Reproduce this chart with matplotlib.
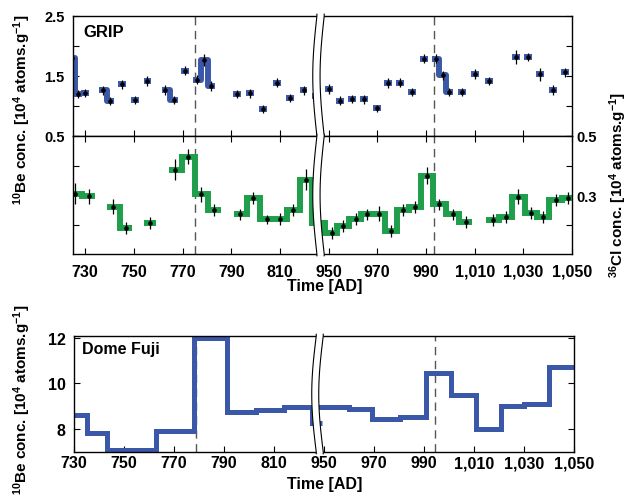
import numpy as np
import matplotlib.pyplot as plt
from matplotlib.transforms import blended_transform_factory

plt.rcParams['font.family'] = ['Liberation Sans', 'DejaVu Sans']
plt.rcParams['font.weight'] = 'bold'
plt.rcParams['mathtext.fontset'] = 'custom'
plt.rcParams['mathtext.rm'] = 'Liberation Sans:bold'
plt.rcParams['mathtext.it'] = 'Liberation Sans:bold'
plt.rcParams['mathtext.bf'] = 'Liberation Sans:bold'

### Daten
# GRIP 10Be (Jahr, Wert, Fehler, Gruppe = zusammenhaengende Proben)
grip_yr  = [724.5, 727.2, 730.0, 737.5, 740.3, 745.1, 750.5, 755.6, 763.0, 766.3,
            771.0, 775.9, 778.9, 781.7, 792.3, 797.8, 803.2, 808.7, 814.2, 819.7,
            824.7, 950.3, 954.7, 959.8, 964.6, 969.8, 974.6, 979.4, 984.4, 989.3,
            994.1, 996.9, 999.6, 1004.9, 1010.3, 1016.0, 1026.9, 1031.8, 1036.9, 1042.1,
            1047.1]
grip_val = [1.80, 1.20, 1.22, 1.26, 1.08, 1.36, 1.10, 1.42, 1.27, 1.10,
            1.59, 1.44, 1.77, 1.33, 1.20, 1.21, 0.95, 1.39, 1.13, 1.26,
            1.16, 1.28, 1.09, 1.12, 1.11, 0.96, 1.38, 1.39, 1.23, 1.79,
            1.79, 1.51, 1.23, 1.23, 1.53, 1.42, 1.82, 1.82, 1.53, 1.27,
            1.56]
grip_err = [0.10, 0.07, 0.07, 0.07, 0.07, 0.08, 0.07, 0.08, 0.08, 0.07,
            0.08, 0.08, 0.10, 0.08, 0.07, 0.08, 0.06, 0.08, 0.07, 0.08,
            0.08, 0.08, 0.07, 0.07, 0.07, 0.06, 0.08, 0.08, 0.07, 0.08,
            0.08, 0.08, 0.07, 0.07, 0.08, 0.07, 0.12, 0.07, 0.11, 0.08,
            0.08]
grip_run = [0, 0, 1, 2, 2, 3, 4, 5, 6, 6,
            7, 8, 8, 8, 9, 10, 11, 12, 13, 14,
            15, 16, 17, 18, 19, 20, 21, 22, 23, 24,
            25, 25, 25, 26, 27, 28, 29, 30, 31, 32,
            33]

# GRIP 36Cl
cl_yr  = [725.9, 731.4, 741.6, 746.7, 756.7, 767.0, 772.2, 777.7, 783.0, 793.7,
          799.1, 804.6, 810.1, 815.5, 820.8, 825.8, 951.3, 956.0, 961.1, 965.9,
          970.9, 975.7, 980.7, 985.5, 990.6, 995.5, 1001.0, 1006.3, 1017.4, 1022.9,
          1028.0, 1033.0, 1038.2, 1043.3, 1048.2]
cl_val = [0.305, 0.296, 0.260, 0.189, 0.206, 0.386, 0.430, 0.302, 0.249, 0.234,
          0.290, 0.218, 0.220, 0.249, 0.352, 0.204, 0.172, 0.196, 0.218, 0.234,
          0.237, 0.179, 0.249, 0.260, 0.366, 0.268, 0.234, 0.209, 0.215, 0.226,
          0.294, 0.239, 0.226, 0.282, 0.290]
cl_err = [0.035, 0.025, 0.025, 0.020, 0.020, 0.035, 0.025, 0.025, 0.020, 0.020,
          0.020, 0.015, 0.020, 0.020, 0.035, 0.020, 0.020, 0.020, 0.020, 0.020,
          0.025, 0.020, 0.020, 0.020, 0.030, 0.020, 0.020, 0.020, 0.020, 0.020,
          0.025, 0.020, 0.020, 0.020, 0.020]
cl_run = [0, 0, 1, 1, 2, 3, 3, 3, 3, 4,
          4, 4, 4, 4, 4, 4, 4, 4, 4, 4,
          4, 4, 4, 4, 4, 4, 4, 4, 5, 5,
          5, 5, 5, 5, 5]

# Dome Fuji 10Be (Stufen)
df_edges_a = [730, 735, 743, 762.6, 778, 791.3, 802.6, 813.9, 825.3, 829]
df_vals_a  = [8.61, 7.83, 7.07, 7.93, 12.0, 8.73, 8.83, 8.98, 8.26]
df_edges_b = [947, 960, 969.3, 980.3, 990.6, 1000.6, 1010.6, 1020.6, 1030, 1040, 1050]
df_vals_b  = [8.98, 8.90, 8.46, 8.52, 10.48, 9.48, 8.01, 9.02, 9.12, 10.74]

event_top = [775.0, 993.2]
event_df  = [778.8, 994.3]

xt_years  = [730, 750, 770, 790, 810, 950, 970, 990, 1010, 1030, 1050]
xt_labels = ['730', '750', '770', '790', '810', '950', '970', '990', '1,010', '1,030', '1,050']

blue  = '#3b58a8'
green = '#1f9e4b'

### Hilfsfunktionen
def tx(yr):
	# Achsenbruch: 830..950 wird herausgeschnitten
	yr = np.asarray(yr, dtype=float)
	return np.where(yr > 900, yr - 120, yr)

def draw_runs(ax, yr, val, run, hw, **kw):
	yr, val, run = np.asarray(yr), np.asarray(val), np.asarray(run)
	for r in np.unique(run):
		m = run == r
		x = tx(yr[m])
		edges = np.concatenate([[x[0] - hw], (x[1:] + x[:-1]) / 2, [x[-1] + hw]])
		ax.stairs(val[m], edges, baseline=None, fill=False, **kw)

def draw_break(ax, x0, sep, amp):
	trans = blended_transform_factory(ax.transData, ax.transAxes)
	yy = np.linspace(-0.015, 1.015, 80)
	bow = amp * np.sin(np.pi * np.clip(yy, 0, 1))
	xl = x0 - bow
	xr = x0 + sep - bow
	ax.fill(np.r_[xl, xr[::-1]], np.r_[yy, yy[::-1]], color='white', lw=0,
			transform=trans, clip_on=False, zorder=10)
	for xx in (xl, xr):
		ax.plot(xx, yy, color='black', lw=0.8, transform=trans, clip_on=False, zorder=11)

### Figur
fig = plt.figure(figsize=(6.32, 5.02), dpi=100)
ax1 = fig.add_axes([73/632, 1 - 137/502, 499/632, 120/502])
ax2 = fig.add_axes([73/632, 1 - 255/502, 499/632, 118/502])
ax3 = fig.add_axes([74/632, 1 - 453/502, 500/632, 116/502])

for ax in (ax1, ax2, ax3):
	for s in ax.spines.values():
		s.set_linewidth(1.0)

# GRIP 10Be
for x in event_top:
	ax1.axvline(tx(x), color='#555555', lw=1, ls=(0, (6, 4)), zorder=1)
	ax2.axvline(tx(x), color='#555555', lw=1, ls=(0, (6, 4)), zorder=1)
draw_runs(ax1, grip_yr, grip_val, grip_run, 0.4, color=blue, lw=4.3,
		  capstyle='projecting', joinstyle='round', zorder=2)
ax1.errorbar(tx(grip_yr), grip_val, yerr=grip_err, fmt='o', ms=2.3, color='black',
			 ecolor='black', elinewidth=0.9, capsize=0, zorder=3)
ax1.text(0.02, 0.935, 'GRIP', transform=ax1.transAxes, fontsize=12, va='top', ha='left')

# GRIP 36Cl
draw_runs(ax2, cl_yr, cl_val, cl_run, 2.6, color=green, lw=4.3,
		  capstyle='butt', joinstyle='miter', zorder=2)
ax2.errorbar(tx(cl_yr), cl_val, yerr=cl_err, fmt='o', ms=2.3, color='black',
			 ecolor='black', elinewidth=0.9, capsize=0, zorder=3)

# Dome Fuji
for x in event_df:
	ax3.axvline(tx(x), color='#555555', lw=1, ls=(0, (6, 4)), zorder=1)
ax3.stairs(df_vals_a, tx(df_edges_a), baseline=None, fill=False, color=blue, lw=3.6, zorder=2)
ax3.stairs(df_vals_b, tx(df_edges_b), baseline=None, fill=False, color=blue, lw=3.6, zorder=2)
ax3.text(0.016, 0.955, 'Dome Fuji', transform=ax3.transAxes, fontsize=11.5, va='top', ha='left')

# Achsen
ax1.set_xlim(725, 930)
ax2.set_xlim(725, 930)
ax3.set_xlim(730, 930)
ax1.set_ylim(0.5, 2.5)
ax2.set_ylim(0.1, 0.5)
ax3.set_ylim(7.0, 12.08)

for ax in (ax1, ax2, ax3):
	ax.set_xticks(tx(xt_years))
	ax.set_xticklabels(xt_labels)
ax1.tick_params(axis='x', direction='in', bottom=True, top=False, labelbottom=False, length=4)
ax2.tick_params(axis='x', direction='in', bottom=True, top=True, labelbottom=True,
				labelsize=11.5, pad=7, length=4)
ax3.tick_params(axis='x', direction='in', bottom=True, top=False, labelbottom=True,
				labelsize=11.5, pad=2.5, length=4)

ax1.set_yticks([0.5, 1.0, 1.5, 2.0, 2.5])
ax1.set_yticklabels(['0.5', '', '1.5', '', '2.5'])
ax1.tick_params(axis='y', direction='in', left=True, right=True, labelsize=10.5, pad=6, length=4)

ax2.set_yticks([0.2, 0.3, 0.4, 0.5])
ax2.set_yticklabels(['', '0.3', '', '0.5'])
ax2.tick_params(axis='y', direction='in', left=True, right=True, labelleft=False,
				labelright=True, labelsize=10.5, pad=3, length=4)

ax3.set_yticks([8, 10, 12])
ax3.tick_params(axis='y', direction='in', left=True, right=True, labelsize=11.5, pad=6, length=4)

# Achsenbrueche
draw_break(ax1, 825.2, 3.0, 1.7)
draw_break(ax2, 825.2, 3.0, 1.7)
draw_break(ax3, 826.9, 2.8, 1.8)

# Beschriftungen
fig.text(325/632, 1 - 287/502, 'Time [AD]', fontsize=11.5, ha='center', va='center')
fig.text(325/632, 1 - 485/502, 'Time [AD]', fontsize=11.5, ha='center', va='center')
be_label = r'$^{10}$Be conc. [10$^{4}$ atoms.g$^{-1}$]'
fig.text(22/632, 1 - 110/502, be_label, fontsize=11, rotation=90, ha='center', va='center')
fig.text(22/632, 1 - 400/502, be_label, fontsize=11, rotation=90, ha='center', va='center')
fig.text(618/632, 1 - 185/502, r'$^{36}$Cl conc. [10$^{4}$ atoms.g$^{-1}$]', fontsize=11,
		 rotation=90, ha='center', va='center')

plt.savefig('out.png', dpi=100)
